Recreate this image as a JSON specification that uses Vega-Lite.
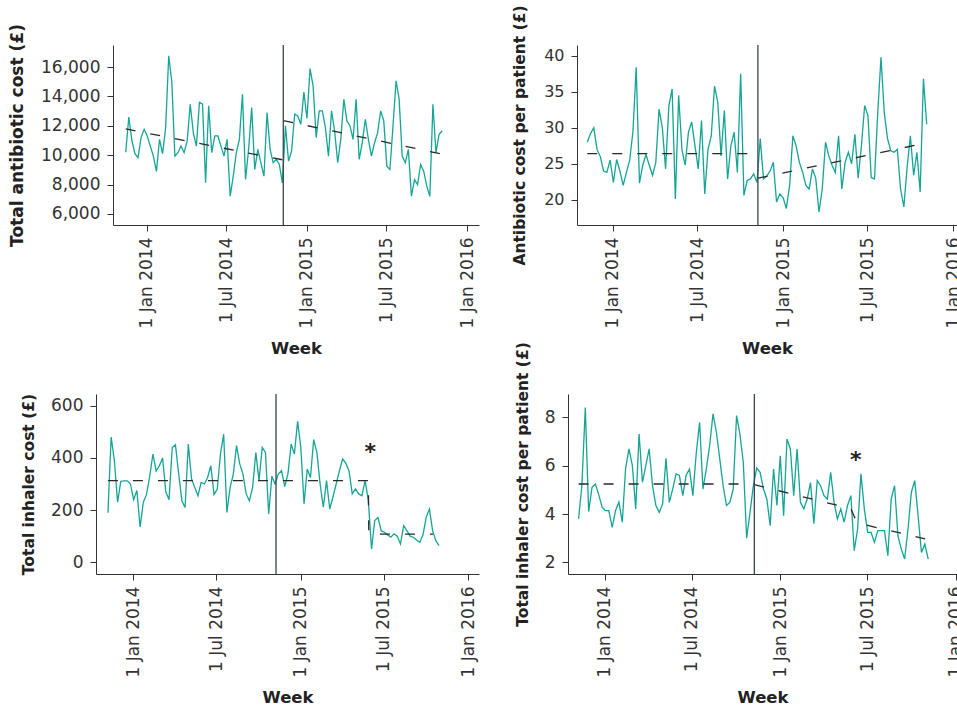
{
"$schema":"https://vega.github.io/schema/vega-lite/v6.json",
"background":"white",
"padding":{"left":8,"top":4,"right":0,"bottom":0},
"config":{"view":{"stroke":null},"axis":{"grid":false,"labelFont":"DejaVu Sans","titleFont":"DejaVu Sans","labelColor":"#333","titleColor":"#222","domainColor":"#333","tickColor":"#333","titleFontWeight":"bold","tickSize":6,"labelPadding":7,"labelOverlap":false}},
"datasets":{
"w":[
{"d":"2013-11-07","a":null,"b":28.0,"c":190,"e":3.8},
{"d":"2013-11-14","a":10200,"b":29.2,"c":480,"e":5.2},
{"d":"2013-11-21","a":12600,"b":30.0,"c":390,"e":8.4},
{"d":"2013-11-28","a":11000,"b":27.0,"c":230,"e":4.1},
{"d":"2013-12-05","a":10100,"b":26.0,"c":310,"e":5.1},
{"d":"2013-12-12","a":9830,"b":24.0,"c":312,"e":5.24},
{"d":"2013-12-19","a":11200,"b":23.8,"c":312,"e":4.8},
{"d":"2013-12-26","a":11760,"b":25.5,"c":300,"e":4.28},
{"d":"2014-01-02","a":11300,"b":22.4,"c":240,"e":4.14},
{"d":"2014-01-09","a":10620,"b":25.6,"c":275,"e":4.14},
{"d":"2014-01-16","a":9940,"b":24.0,"c":135,"e":3.45},
{"d":"2014-01-23","a":8900,"b":22.0,"c":230,"e":4.14},
{"d":"2014-01-30","a":11080,"b":23.8,"c":260,"e":4.5},
{"d":"2014-02-06","a":10100,"b":25.5,"c":330,"e":3.66},
{"d":"2014-02-13","a":11880,"b":29.5,"c":415,"e":5.9},
{"d":"2014-02-20","a":16770,"b":38.4,"c":350,"e":6.69},
{"d":"2014-02-27","a":15000,"b":22.3,"c":370,"e":6.0},
{"d":"2014-03-06","a":9940,"b":24.8,"c":400,"e":4.21},
{"d":"2014-03-13","a":10170,"b":26.3,"c":270,"e":7.31},
{"d":"2014-03-20","a":10620,"b":24.8,"c":240,"e":5.31},
{"d":"2014-03-27","a":10170,"b":23.4,"c":440,"e":6.0},
{"d":"2014-04-03","a":10970,"b":25.2,"c":450,"e":6.69},
{"d":"2014-04-10","a":13470,"b":32.6,"c":340,"e":5.17},
{"d":"2014-04-17","a":11530,"b":30.0,"c":236,"e":4.35},
{"d":"2014-04-24","a":10620,"b":24.3,"c":210,"e":4.07},
{"d":"2014-05-01","a":13590,"b":33.0,"c":453,"e":4.41},
{"d":"2014-05-08","a":13470,"b":35.4,"c":320,"e":6.3},
{"d":"2014-05-15","a":8120,"b":20.1,"c":287,"e":4.48},
{"d":"2014-05-22","a":13360,"b":34.5,"c":255,"e":5.03},
{"d":"2014-05-29","a":10170,"b":27.0,"c":306,"e":5.66},
{"d":"2014-06-05","a":11310,"b":24.8,"c":300,"e":5.59},
{"d":"2014-06-12","a":11310,"b":29.4,"c":325,"e":4.76},
{"d":"2014-06-19","a":10620,"b":30.8,"c":370,"e":5.6},
{"d":"2014-06-26","a":9940,"b":27.5,"c":260,"e":5.86},
{"d":"2014-07-03","a":11080,"b":24.3,"c":280,"e":4.76},
{"d":"2014-07-10","a":7210,"b":31.0,"c":415,"e":6.5},
{"d":"2014-07-17","a":8570,"b":20.8,"c":491,"e":7.79},
{"d":"2014-07-24","a":10170,"b":27.0,"c":191,"e":5.03},
{"d":"2014-07-31","a":11080,"b":28.9,"c":287,"e":5.86},
{"d":"2014-08-07","a":14150,"b":35.8,"c":338,"e":6.83},
{"d":"2014-08-14","a":8350,"b":33.5,"c":447,"e":8.14},
{"d":"2014-08-21","a":10400,"b":26.1,"c":377,"e":7.38},
{"d":"2014-08-28","a":13240,"b":32.4,"c":338,"e":6.28},
{"d":"2014-09-04","a":9030,"b":22.9,"c":262,"e":5.17},
{"d":"2014-09-11","a":10400,"b":27.5,"c":236,"e":4.35},
{"d":"2014-09-18","a":9485,"b":29.4,"c":287,"e":4.48},
{"d":"2014-09-25","a":8574,"b":23.8,"c":421,"e":5.03},
{"d":"2014-10-02","a":12900,"b":37.5,"c":313,"e":8.07},
{"d":"2014-10-09","a":10400,"b":20.6,"c":440,"e":7.3},
{"d":"2014-10-16","a":9485,"b":22.7,"c":421,"e":6.14},
{"d":"2014-10-23","a":9713,"b":22.9,"c":185,"e":3.0},
{"d":"2014-10-30","a":9371,"b":23.6,"c":330,"e":4.07},
{"d":"2014-11-06","a":8118,"b":22.4,"c":300,"e":5.17},
{"d":"2014-11-13","a":12000,"b":28.5,"c":338,"e":5.9},
{"d":"2014-11-20","a":9600,"b":22.9,"c":351,"e":5.72},
{"d":"2014-11-27","a":10300,"b":23.3,"c":290,"e":5.03},
{"d":"2014-12-04","a":12800,"b":24.0,"c":340,"e":4.62},
{"d":"2014-12-11","a":12674,"b":25.2,"c":453,"e":3.52},
{"d":"2014-12-18","a":12100,"b":19.7,"c":415,"e":5.86},
{"d":"2014-12-25","a":14300,"b":20.8,"c":540,"e":4.35},
{"d":"2015-01-01","a":12500,"b":20.3,"c":440,"e":6.41},
{"d":"2015-01-08","a":15900,"b":18.8,"c":224,"e":3.93},
{"d":"2015-01-15","a":14700,"b":22.0,"c":357,"e":7.1},
{"d":"2015-01-22","a":11200,"b":28.9,"c":325,"e":6.69},
{"d":"2015-01-29","a":13016,"b":27.5,"c":470,"e":4.76},
{"d":"2015-02-05","a":13016,"b":25.2,"c":421,"e":6.69},
{"d":"2015-02-12","a":11877,"b":23.8,"c":300,"e":4.48},
{"d":"2015-02-19","a":9940,"b":22.0,"c":211,"e":4.21},
{"d":"2015-02-26","a":13016,"b":21.5,"c":313,"e":4.62},
{"d":"2015-03-05","a":11650,"b":24.3,"c":204,"e":5.3},
{"d":"2015-03-12","a":9485,"b":23.0,"c":250,"e":3.6},
{"d":"2015-03-19","a":11080,"b":18.3,"c":300,"e":5.38},
{"d":"2015-03-26","a":13813,"b":21.5,"c":350,"e":5.17},
{"d":"2015-04-02","a":12332,"b":28.0,"c":396,"e":4.76},
{"d":"2015-04-09","a":11990,"b":26.1,"c":380,"e":4.62},
{"d":"2015-04-16","a":11080,"b":24.8,"c":350,"e":5.72},
{"d":"2015-04-23","a":13813,"b":23.8,"c":262,"e":4.48},
{"d":"2015-04-30","a":9713,"b":28.9,"c":281,"e":3.79},
{"d":"2015-05-07","a":10852,"b":21.5,"c":262,"e":4.21},
{"d":"2015-05-14","a":12446,"b":25.2,"c":255,"e":3.66},
{"d":"2015-05-21","a":11080,"b":26.6,"c":313,"e":4.35},
{"d":"2015-05-28","a":9940,"b":25.0,"c":236,"e":4.76},
{"d":"2015-06-04","a":10852,"b":29.1,"c":51,"e":2.48},
{"d":"2015-06-11","a":11535,"b":23.0,"c":160,"e":3.38},
{"d":"2015-06-18","a":13016,"b":27.5,"c":172,"e":5.66},
{"d":"2015-06-25","a":12332,"b":33.1,"c":121,"e":4.21},
{"d":"2015-07-02","a":9257,"b":31.7,"c":115,"e":3.24},
{"d":"2015-07-09","a":9029,"b":23.1,"c":105,"e":3.24},
{"d":"2015-07-16","a":11990,"b":22.9,"c":96,"e":2.83},
{"d":"2015-07-23","a":15066,"b":32.1,"c":109,"e":3.31},
{"d":"2015-07-30","a":13813,"b":39.8,"c":100,"e":3.31},
{"d":"2015-08-06","a":9940,"b":32.1,"c":70,"e":3.31},
{"d":"2015-08-13","a":9485,"b":28.5,"c":140,"e":2.28},
{"d":"2015-08-20","a":10396,"b":26.8,"c":121,"e":4.62},
{"d":"2015-08-27","a":7207,"b":26.6,"c":100,"e":5.17},
{"d":"2015-09-03","a":8346,"b":27.0,"c":96,"e":3.1},
{"d":"2015-09-10","a":8004,"b":21.5,"c":85,"e":2.55},
{"d":"2015-09-17","a":9371,"b":19.0,"c":77,"e":2.14},
{"d":"2015-09-24","a":8916,"b":24.5,"c":105,"e":3.38},
{"d":"2015-10-01","a":7890,"b":28.9,"c":172,"e":4.9},
{"d":"2015-10-08","a":7207,"b":23.4,"c":204,"e":5.38},
{"d":"2015-10-15","a":13471,"b":26.6,"c":121,"e":3.93},
{"d":"2015-10-22","a":10168,"b":21.1,"c":83,"e":2.41},
{"d":"2015-10-29","a":11421,"b":36.8,"c":64,"e":2.76},
{"d":"2015-11-05","a":11650,"b":30.5,"c":null,"e":2.14}
],
"tr":[
{"p":"a","s":1,"d":"2013-11-14","v":11786},{"p":"a","s":1,"d":"2014-11-06","v":9690},
{"p":"a","s":2,"d":"2014-11-08","v":12355},{"p":"a","s":2,"d":"2015-11-05","v":10077},
{"p":"b","s":1,"d":"2013-11-07","v":26.4},{"p":"b","s":1,"d":"2014-11-06","v":26.4},
{"p":"b","s":2,"d":"2014-11-08","v":23.0},{"p":"b","s":2,"d":"2015-11-05","v":27.9},
{"p":"c","s":1,"d":"2013-11-07","v":313},{"p":"c","s":1,"d":"2015-05-28","v":313},
{"p":"c","s":1,"d":"2015-05-29","v":108},{"p":"c","s":1,"d":"2015-10-16","v":108},
{"p":"e","s":1,"d":"2013-11-07","v":5.24},{"p":"e","s":1,"d":"2014-11-06","v":5.24},
{"p":"e","s":2,"d":"2014-11-08","v":5.21},{"p":"e","s":2,"d":"2015-05-28","v":4.22},
{"p":"e","s":2,"d":"2015-06-10","v":3.63},{"p":"e","s":2,"d":"2015-11-05","v":2.94}
],
"iv":[{"d":"2014-11-08"}],
"st":[{"p":"c","d":"2015-06-01","v":422},{"p":"e","d":"2015-06-07","v":6.23}]
},
"spacing":-16,
"vconcat":[
{"hconcat":[
{"width":1,"height":1,"data":{"values":[{}]},"mark":{"type":"text","text":""},"encoding":{}},
{"hconcat":[
{"width":366,"height":180,"layer":[
{"data":{"name":"w"},"mark":{"type":"line","color":"#14a596","strokeWidth":1.3},
"encoding":{"x":{"field":"d","type":"temporal","title":"Week","scale":{"domain":[{"year":2013,"month":10,"date":16},{"year":2016,"month":1,"date":28}]},
"axis":{"values":[{"year":2014,"month":1,"date":1},{"year":2014,"month":7,"date":1},{"year":2015,"month":1,"date":1},{"year":2015,"month":7,"date":1},{"year":2016,"month":1,"date":1}],"format":"%-d %b %Y","labelAngle":-90,"labelPadding":6,"titlePadding":12,"labelFontSize":17,"titleFontSize":16.5}},
"y":{"field":"a","type":"quantitative","title":"Total antibiotic cost (£)","scale":{"domain":[5250,17500],"nice":false,"zero":false},
"axis":{"values":[6000,8000,10000,12000,14000,16000],"tickCount":12,"format":",.0f","titlePadding":14,"labelFontSize":17,"titleFontSize":17}}}},
{"data":{"name":"tr"},"transform":[{"filter":"datum.p==='a'"}],"mark":{"type":"line","color":"#2a2a2a","strokeDash":[10,15],"strokeWidth":1.3},
"encoding":{"x":{"field":"d","type":"temporal"},"y":{"field":"v","type":"quantitative"},"detail":{"field":"s"}}},
{"data":{"name":"iv"},"mark":{"type":"rule","color":"#3a4350","strokeWidth":1.3},"encoding":{"x":{"field":"d","type":"temporal"}}}
]},
{"width":380,"height":180,"layer":[
{"data":{"name":"w"},"mark":{"type":"line","color":"#14a596","strokeWidth":1.3},
"encoding":{"x":{"field":"d","type":"temporal","title":"Week","scale":{"domain":[{"year":2013,"month":10,"date":16},{"year":2016,"month":1,"date":9}]},
"axis":{"values":[{"year":2014,"month":1,"date":1},{"year":2014,"month":7,"date":1},{"year":2015,"month":1,"date":1},{"year":2015,"month":7,"date":1},{"year":2016,"month":1,"date":1}],"format":"%-d %b %Y","labelAngle":-90,"labelPadding":6,"titlePadding":12,"labelFontSize":17,"titleFontSize":16.5}},
"y":{"field":"b","type":"quantitative","title":"Antibiotic cost per patient (£)","scale":{"domain":[16.5,41.5],"nice":false,"zero":false},
"axis":{"values":[20,25,30,35,40],"tickCount":12,"format":"d","titlePadding":16,"labelFontSize":16,"titleFontSize":15.5}}}},
{"data":{"name":"tr"},"transform":[{"filter":"datum.p==='b'"}],"mark":{"type":"line","color":"#2a2a2a","strokeDash":[10,15],"strokeWidth":1.3},
"encoding":{"x":{"field":"d","type":"temporal"},"y":{"field":"v","type":"quantitative"},"detail":{"field":"s"}}},
{"data":{"name":"iv"},"mark":{"type":"rule","color":"#3a4350","strokeWidth":1.3},"encoding":{"x":{"field":"d","type":"temporal"}}}
]}
],"spacing":98,"bounds":"flush"}
],"spacing":16,"bounds":"flush"},
{"hconcat":[
{"width":383,"height":180,"layer":[
{"data":{"name":"w"},"mark":{"type":"line","color":"#14a596","strokeWidth":1.3},
"encoding":{"x":{"field":"d","type":"temporal","title":"Week","scale":{"domain":[{"year":2013,"month":10,"date":12},{"year":2016,"month":1,"date":24}]},
"axis":{"values":[{"year":2014,"month":1,"date":1},{"year":2014,"month":7,"date":1},{"year":2015,"month":1,"date":1},{"year":2015,"month":7,"date":1},{"year":2016,"month":1,"date":1}],"format":"%-d %b %Y","labelAngle":-90,"labelPadding":6,"titlePadding":12,"labelFontSize":17,"titleFontSize":16.5}},
"y":{"field":"c","type":"quantitative","title":"Total inhaler cost (£)","scale":{"domain":[-45,645],"nice":false,"zero":false},
"axis":{"values":[0,200,400,600],"tickCount":12,"format":"d","titlePadding":14,"labelFontSize":17,"titleFontSize":15.5}}}},
{"data":{"name":"tr"},"transform":[{"filter":"datum.p==='c'"}],"mark":{"type":"line","color":"#2a2a2a","strokeDash":[10,15],"strokeWidth":1.3},
"encoding":{"x":{"field":"d","type":"temporal"},"y":{"field":"v","type":"quantitative"},"detail":{"field":"s"}}},
{"data":{"name":"iv"},"mark":{"type":"rule","color":"#3a4350","strokeWidth":1.3},"encoding":{"x":{"field":"d","type":"temporal"}}},
{"data":{"name":"st"},"transform":[{"filter":"datum.p==='c'"}],"mark":{"type":"text","text":"*","fontSize":22,"fontWeight":"bold","font":"DejaVu Sans","color":"#222","baseline":"middle"},
"encoding":{"x":{"field":"d","type":"temporal"},"y":{"field":"v","type":"quantitative"}}}
]},
{"width":389,"height":180,"layer":[
{"data":{"name":"w"},"mark":{"type":"line","color":"#14a596","strokeWidth":1.3},
"encoding":{"x":{"field":"d","type":"temporal","title":"Week","scale":{"domain":[{"year":2013,"month":10,"date":16},{"year":2016,"month":1,"date":4}]},
"axis":{"values":[{"year":2014,"month":1,"date":1},{"year":2014,"month":7,"date":1},{"year":2015,"month":1,"date":1},{"year":2015,"month":7,"date":1},{"year":2016,"month":1,"date":1}],"format":"%-d %b %Y","labelAngle":-90,"labelPadding":6,"titlePadding":12,"labelFontSize":17,"titleFontSize":16.5}},
"y":{"field":"e","type":"quantitative","title":"Total inhaler cost per patient (£)","scale":{"domain":[1.52,8.96],"nice":false,"zero":false},
"axis":{"values":[2,4,6,8],"tickCount":12,"format":"d","titlePadding":14,"labelFontSize":17,"titleFontSize":15.5}}}},
{"data":{"name":"tr"},"transform":[{"filter":"datum.p==='e'"}],"mark":{"type":"line","color":"#2a2a2a","strokeDash":[10,15],"strokeWidth":1.3},
"encoding":{"x":{"field":"d","type":"temporal"},"y":{"field":"v","type":"quantitative"},"detail":{"field":"s"}}},
{"data":{"name":"iv"},"mark":{"type":"rule","color":"#3a4350","strokeWidth":1.3},"encoding":{"x":{"field":"d","type":"temporal"}}},
{"data":{"name":"st"},"transform":[{"filter":"datum.p==='e'"}],"mark":{"type":"text","text":"*","fontSize":22,"fontWeight":"bold","font":"DejaVu Sans","color":"#222","baseline":"middle"},
"encoding":{"x":{"field":"d","type":"temporal"},"y":{"field":"v","type":"quantitative"}}}
]}
],"spacing":89,"bounds":"flush"}
]
}
